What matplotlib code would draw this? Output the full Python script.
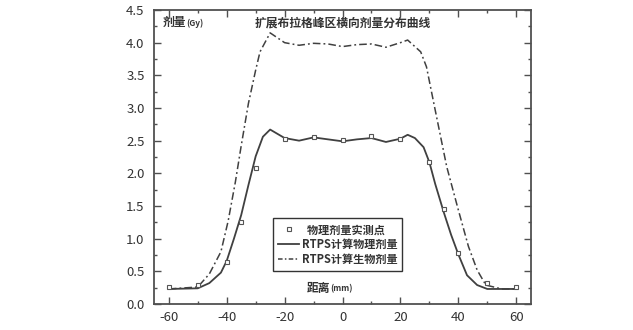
import matplotlib
matplotlib.use("Agg")
import matplotlib.pyplot as plt
from matplotlib.lines import Line2D
from matplotlib.ticker import MultipleLocator

plt.rcParams['font.family'] = ['Noto Sans CJK SC', 'DejaVu Sans']

# Lateral dose profile across the spread-out Bragg peak region
phys_x = [-60, -50, -46, -42, -40, -37.5, -35, -32.5, -30, -27.5, -25, -20, -15, -10,
          -5, 0, 5, 10, 15, 20, 22.5, 25, 28, 30, 32, 35, 37.5, 40, 43, 46.5, 50, 60]
phys_y = [0.23, 0.24, 0.32, 0.48, 0.66, 1.00, 1.36, 1.82, 2.26, 2.56, 2.67, 2.54, 2.50, 2.55,
          2.52, 2.49, 2.52, 2.54, 2.48, 2.53, 2.59, 2.54, 2.40, 2.17, 1.84, 1.40, 1.06, 0.76,
          0.44, 0.29, 0.23, 0.23]

bio_x = [-60, -50, -46, -42, -39.5, -37, -35, -32.5, -30, -28.5, -25, -20, -15, -10, -5,
         0, 5, 10, 15, 20, 22.5, 27, 29, 31.5, 36, 40, 43.5, 46.5, 49.5, 55, 60]
bio_y = [0.23, 0.26, 0.46, 0.80, 1.27, 1.87, 2.42, 3.07, 3.58, 3.86, 4.15, 4.00, 3.96, 3.99,
         3.98, 3.94, 3.97, 3.98, 3.93, 4.00, 4.04, 3.86, 3.63, 3.08, 2.10, 1.44, 0.88, 0.52,
         0.29, 0.23, 0.23]

meas_x = [-60, -50, -40, -35, -30, -20, -10, 0, 10, 20, 30, 35, 40, 50, 60]
meas_y = [0.26, 0.29, 0.65, 1.26, 2.08, 2.53, 2.55, 2.51, 2.57, 2.53, 2.17, 1.45, 0.78, 0.32, 0.26]

x_ticks = [-60, -40, -20, 0, 20, 40, 60]
y_ticks = [0.0, 0.5, 1.0, 1.5, 2.0, 2.5, 3.0, 3.5, 4.0, 4.5]

label_meas = "物理剂量实测点"
label_phys = "RTPS计算物理剂量"
label_bio = "RTPS计算生物剂量"

line_col = "#404040"
axis_col = "#505050"
text_col = "#333333"

fig = plt.figure(figsize=(6.33, 3.30), dpi=100)
ax = fig.add_axes([0.2438, 0.0788, 0.5946, 0.8909])

ax.plot(phys_x, phys_y, color=line_col, lw=1.3, solid_joinstyle='round')
ax.plot(bio_x, bio_y, color=line_col, lw=1.1, dashes=(5, 2, 1.2, 2))
ax.plot(meas_x, meas_y, linestyle='none', marker='s', ms=3.4, mfc='white',
        mec='#555555', mew=0.8)

ax.set_xlim(-65, 65)
ax.set_ylim(0, 4.5)
ax.set_xticks(x_ticks)
ax.set_xticklabels([f"{v:d}" for v in x_ticks])
ax.set_yticks(y_ticks)
ax.set_yticklabels([f"{v:.1f}" for v in y_ticks])
ax.xaxis.set_minor_locator(MultipleLocator(10))
ax.yaxis.set_minor_locator(MultipleLocator(0.25))

ax.tick_params(which='both', direction='in', top=True, right=True, colors=axis_col,
               labelcolor=text_col, width=1.0)
ax.tick_params(which='major', length=5, labelsize=9.5)
ax.tick_params(which='minor', length=2.5)
ax.tick_params(axis='y', which='major', pad=7)
ax.tick_params(axis='x', which='major', pad=5)
for sp in ax.spines.values():
    sp.set_color(axis_col)
    sp.set_linewidth(1.3)

# Axis captions and heading placed inside the frame
t1 = ax.text(0.023, 0.956, "剂量", transform=ax.transAxes, fontsize=8.5,
             fontweight='bold', color=text_col, ha='left', va='center')
ax.annotate("(Gy)", xy=(1.0, 0.12), xycoords=t1, fontsize=6, color=text_col,
            ha='left', va='bottom', fontweight='bold')
ax.text(0.502, 0.956, "扩展布拉格峰区横向剂量分布曲线", transform=ax.transAxes,
        fontsize=8.5, fontweight='bold', color=text_col, ha='center', va='center')
t2 = ax.text(0.405, 0.053, "距离", transform=ax.transAxes, fontsize=8.5,
             fontweight='bold', color=text_col, ha='left', va='center')
ax.annotate("(mm)", xy=(1.0, 0.12), xycoords=t2, fontsize=6, color=text_col,
            ha='left', va='bottom', fontweight='bold')

handles = [
    Line2D([], [], linestyle='none', marker='s', ms=3.4, mfc='white', mec='#555555', mew=0.8),
    Line2D([], [], color=line_col, lw=1.3),
    Line2D([], [], color=line_col, lw=1.1, dashes=(3, 1.5, 1, 1.5)),
]
leg = ax.legend(handles, ["  " + label_meas, label_phys, label_bio],
                loc='upper left', bbox_to_anchor=(0.316, 0.2915), borderaxespad=0,
                fontsize=8, handlelength=1.9, handletextpad=0.2, labelspacing=0.15,
                borderpad=0.45, fancybox=False, framealpha=1, edgecolor='#333333')
leg.get_frame().set_linewidth(1.0)
for t in leg.get_texts():
    t.set_color(text_col)
    t.set_fontweight('bold')

fig.savefig("out.png", dpi=100)
